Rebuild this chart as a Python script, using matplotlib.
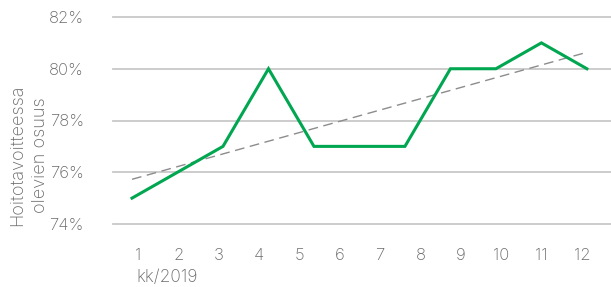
import matplotlib.pyplot as plt
import numpy as np
from matplotlib.ticker import FuncFormatter

plt.rcParams["font.family"] = ["Inter", "DejaVu Sans"]
plt.rcParams["font.weight"] = "light"

# share of patients within treatment target, per month 2019 (%)
values = [75, 76, 77, 80, 77, 77, 77, 80, 80, 81, 80]
month_labels = ["1", "2", "3", "4", "5", "6", "7", "8", "9", "10", "11", "12"]

GREEN = "#00a650"
TEXT = "#6a6a6a"
GRID = "#c8c8c8"

W, H = 611, 287
fig = plt.figure(figsize=(W / 100, H / 100), dpi=100)
ax = fig.add_axes([113 / W, (H - 224) / H, 1 - 113 / W, (224 - 17) / H])

x = np.arange(len(values))
ax.plot(x, values, color=GREEN, lw=2.2, solid_joinstyle="miter", zorder=3)

# linear trend line
k, b = np.polyfit(x, values, 1)
ax.plot(x, k * x + b, color="#8c8c8c", lw=1.0, dashes=(7, 4), zorder=2)

ax.set_ylim(74, 82)
ax.set_yticks([74, 76, 78, 80, 82])
ax.yaxis.set_major_formatter(FuncFormatter(lambda v, p: f"{v:.0f}%"))
ax.set_xlim(-0.418, 10.53)
ax.set_xticks(np.linspace(0.13, 9.89, len(month_labels)))
ax.set_xticklabels(month_labels)

ax.grid(axis="y", color=GRID, lw=1.3)
ax.set_axisbelow(True)
for gl in ax.get_ygridlines():
    gl.set_clip_on(False)
for s in ax.spines.values():
    s.set_visible(False)
ax.tick_params(length=0, labelsize=12, colors=TEXT)
ax.tick_params(axis="y", pad=21)
ax.tick_params(axis="x", pad=17)

fig.text(29 / W, 1 - 155 / H, "Hoitotavoitteessa\nolevien osuus", rotation=90,
         ha="center", va="center", fontsize=13, color=TEXT, linespacing=1.45)
fig.text(136 / W, 1 - 278 / H, "kk/2019", ha="left", va="center",
         fontsize=12.5, color=TEXT)

fig.savefig("out.png", dpi=100)
